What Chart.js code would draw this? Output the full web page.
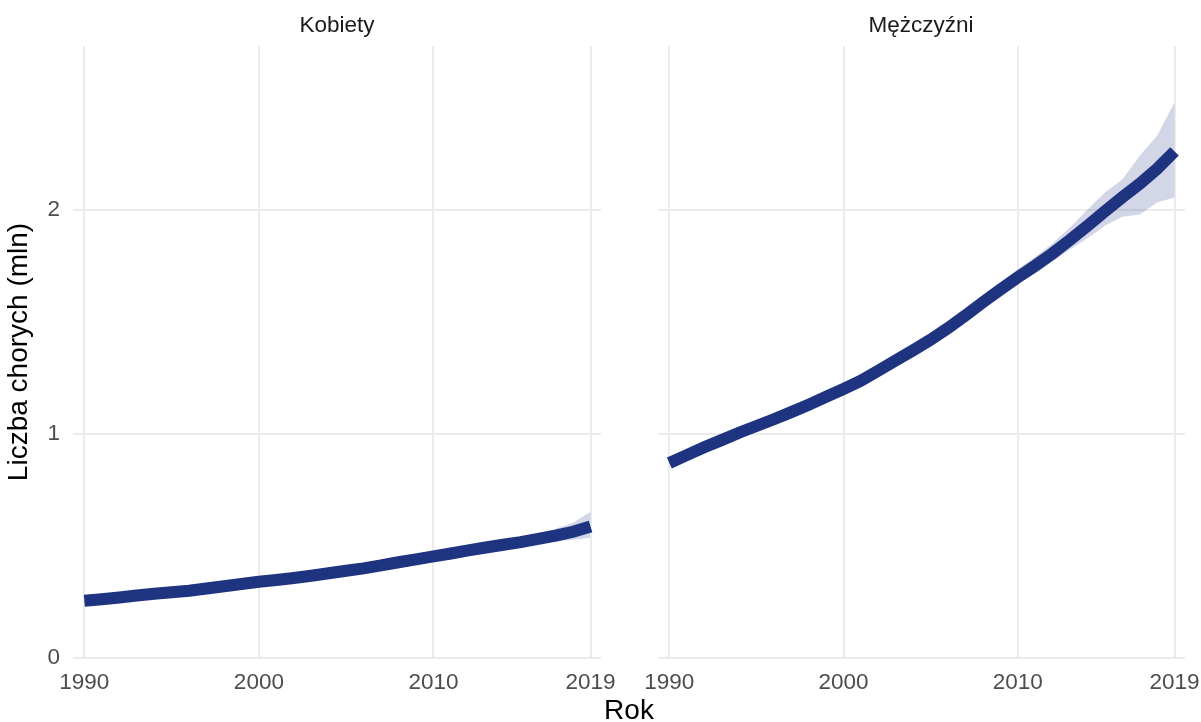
<!DOCTYPE html>
<html>
<head>
<meta charset="utf-8">
<script src="https://cdn.jsdelivr.net/npm/chart.js@4"></script>
<style>
  html, body { margin: 0; padding: 0; background: #fff; }
  #wrap { position: relative; width: 1201px; height: 722px; overflow: hidden; font-family: "Liberation Sans", Arial, sans-serif; }
  canvas { position: absolute; top: 0; }
  .strip { position: absolute; top: 14px; font-size: 22.5px; line-height: 22.5px; color: #1a1a1a; white-space: nowrap; transform: translateX(-50%); }
  .axTitle { position: absolute; font-size: 28px; line-height: 28px; color: #000; white-space: nowrap; text-align: center; }
</style>
</head>
<body>
<div id="wrap">
  <canvas id="leftChart" width="650" height="722" style="left:0"></canvas>
  <canvas id="rightChart" width="589" height="722" style="left:612px"></canvas>
  <div class="strip" style="left:337px">Kobiety</div>
  <div class="strip" style="left:921px">Mężczyźni</div>
  <div class="axTitle" style="left:529px;top:696px;width:200px">Rok</div>
  <div class="axTitle" style="left:-132px;top:338px;width:300px;transform:rotate(-90deg)">Liczba chorych (mln)</div>
</div>
<script>
const years = [1990, 1991, 1992, 1993, 1994, 1995, 1996, 1997, 1998, 1999,
  2000, 2001, 2002, 2003, 2004, 2005, 2006, 2007, 2008, 2009,
  2010, 2011, 2012, 2013, 2014, 2015, 2016, 2017, 2018, 2019];

const kobietyMid = [0.255, 0.262, 0.270, 0.279, 0.287, 0.293, 0.300, 0.310, 0.320, 0.330,
  0.340, 0.348, 0.357, 0.367, 0.378, 0.389, 0.400, 0.413, 0.427, 0.440,
  0.453, 0.466, 0.480, 0.493, 0.505, 0.517, 0.531, 0.546, 0.563, 0.587];
const kobietyLow = [0.250, 0.257, 0.265, 0.274, 0.282, 0.288, 0.295, 0.305, 0.315, 0.325,
  0.335, 0.343, 0.352, 0.362, 0.372, 0.383, 0.394, 0.406, 0.420, 0.432,
  0.444, 0.456, 0.468, 0.480, 0.490, 0.500, 0.510, 0.520, 0.528, 0.536];
const kobietyHigh = [0.260, 0.267, 0.275, 0.284, 0.292, 0.298, 0.305, 0.315, 0.325, 0.335,
  0.345, 0.353, 0.362, 0.372, 0.384, 0.395, 0.406, 0.420, 0.434, 0.448,
  0.462, 0.476, 0.492, 0.507, 0.522, 0.538, 0.556, 0.576, 0.603, 0.652];

const mezczyzniMid = [0.870, 0.905, 0.940, 0.972, 1.005, 1.035, 1.065, 1.097, 1.130, 1.165,
  1.200, 1.237, 1.282, 1.328, 1.373, 1.420, 1.472, 1.528, 1.587, 1.643,
  1.698, 1.750, 1.805, 1.865, 1.928, 1.992, 2.055, 2.115, 2.182, 2.260];
const mezczyzniLow = [0.862, 0.897, 0.932, 0.964, 0.997, 1.027, 1.057, 1.089, 1.122, 1.157,
  1.192, 1.228, 1.272, 1.317, 1.360, 1.405, 1.457, 1.510, 1.567, 1.620,
  1.668, 1.716, 1.770, 1.822, 1.872, 1.928, 1.968, 1.978, 2.032, 2.054];
const mezczyzniHigh = [0.878, 0.913, 0.948, 0.980, 1.013, 1.043, 1.073, 1.105, 1.138, 1.173,
  1.208, 1.247, 1.292, 1.340, 1.388, 1.437, 1.490, 1.552, 1.615, 1.675,
  1.735, 1.790, 1.850, 1.920, 2.000, 2.077, 2.135, 2.240, 2.330, 2.478];

const xTicks = [1990, 2000, 2010, 2019];
const yTicks = [0, 1, 2];

const lineColor = 'rgb(31,52,128)';
const bandColor = 'rgba(31,52,128,0.2)';
const gridColor = '#ebebeb';
const fontFamily = '"Liberation Sans", Arial, sans-serif';

const toPoints = vals => years.map((yr, i) => ({ x: yr, y: vals[i] }));

function makePanel(canvasId, mid, low, high, showY, yWidth, rightPad) {
  return new Chart(document.getElementById(canvasId), {
    type: 'line',
    data: {
      datasets: [
        { data: toPoints(mid), borderColor: lineColor, borderWidth: 12, pointRadius: 0, fill: false, tension: 0 },
        { data: toPoints(high), borderColor: 'rgba(0,0,0,0)', borderWidth: 0, pointRadius: 0, fill: '+1', backgroundColor: bandColor },
        { data: toPoints(low), borderColor: 'rgba(0,0,0,0)', borderWidth: 0, pointRadius: 0, fill: false }
      ]
    },
    options: {
      responsive: false,
      animation: false,
      layout: { padding: { top: 46, right: rightPad, left: 0, bottom: 0 } },
      plugins: { legend: { display: false }, tooltip: { enabled: false } },
      scales: {
        x: {
          type: 'linear', min: 1989.35, max: 2019.6,
          afterBuildTicks: s => { s.ticks = xTicks.map(v => ({ value: v })); },
          afterFit: s => { s.height = 64; s.paddingLeft = 0; s.paddingRight = 0; },
          grid: { color: gridColor, lineWidth: 2, drawTicks: false },
          border: { display: false },
          ticks: { color: '#4d4d4d', font: { family: fontFamily, size: 22.5 }, padding: 11, maxRotation: 0, autoSkip: false, callback: v => String(v) }
        },
        y: {
          min: 0, max: 2.73,
          afterBuildTicks: s => { s.ticks = yTicks.map(v => ({ value: v })); },
          afterFit: s => { s.width = yWidth; s.paddingTop = 0; s.paddingBottom = 0; },
          grid: { color: gridColor, lineWidth: 2, drawTicks: false },
          border: { display: false },
          ticks: { display: showY, color: '#4d4d4d', font: { family: fontFamily, size: 22.5 }, padding: 13, callback: v => String(v) }
        }
      }
    }
  });
}

makePanel('leftChart', kobietyMid, kobietyLow, kobietyHigh, true, 73, 49);
makePanel('rightChart', mezczyzniMid, mezczyzniLow, mezczyzniHigh, false, 46, 16);
</script>
</body>
</html>
